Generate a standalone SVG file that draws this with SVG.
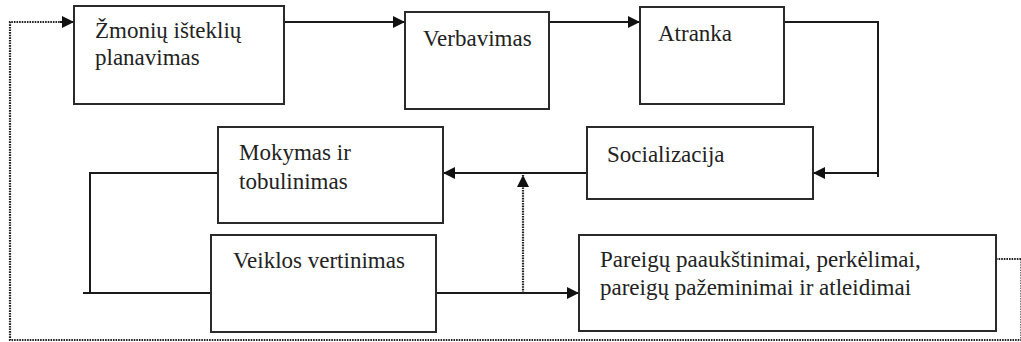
<svg xmlns="http://www.w3.org/2000/svg" width="1021" height="342" viewBox="0 0 1021 342">
<style>
.box{fill:#fff;stroke:#2a2a2a;stroke-width:2}
.t{font-family:'Liberation Serif','Times New Roman','DejaVu Serif',serif;font-size:23px;fill:#222}
.ln{fill:none;stroke:#1a1a1a;stroke-width:2}
.dt{fill:none;stroke:#222;stroke-width:2.2;stroke-dasharray:1.6 1}
</style>
<defs>
<marker id="ah" viewBox="0 0 10 10" refX="10" refY="5" markerWidth="13" markerHeight="12" markerUnits="userSpaceOnUse" orient="auto">
<path d="M0,0 L10,5 L0,10 Z" fill="#111"/>
</marker>
</defs>
<rect width="1021" height="342" fill="#fff"/>
<g id="connectors">
<polyline class="dt" points="1021.5,259 1021.5,340 10,340 10,22 60,22"/>
<line class="ln" x1="60" y1="22" x2="74" y2="22" marker-end="url(#ah)"/>
<line class="dt" x1="996" y1="259" x2="1021" y2="259"/>
<line class="ln" x1="284" y1="22" x2="405" y2="22" marker-end="url(#ah)"/>
<line class="ln" x1="549" y1="22" x2="640" y2="22" marker-end="url(#ah)"/>
<polyline class="ln" points="784,22 878,22 878,177"/>
<line class="ln" x1="878" y1="173" x2="813" y2="173" marker-end="url(#ah)"/>
<line class="ln" x1="587" y1="173" x2="443" y2="173" marker-end="url(#ah)"/>
<polyline class="ln" points="218,173 90,173 90,293"/>
<line class="ln" x1="83" y1="293" x2="211" y2="293"/>
<line class="ln" x1="436" y1="293" x2="579" y2="293" marker-end="url(#ah)"/>
<line class="dt" x1="523" y1="293" x2="523" y2="175" marker-end="url(#ah)"/>
</g>
<g id="n1"><rect class="box" x="74" y="6" width="210" height="98"/><text class="t" x="95" y="38">Žmonių išteklių</text><text class="t" x="95" y="65">planavimas</text></g>
<g id="n2"><rect class="box" x="405" y="12" width="144" height="97"/><text class="t" x="423" y="46">Verbavimas</text></g>
<g id="n3"><rect class="box" x="640" y="7" width="144" height="97"/><text class="t" x="658" y="41">Atranka</text></g>
<g id="n4"><rect class="box" x="587" y="127" width="226" height="72"/><text class="t" x="607" y="162">Socializacija</text></g>
<g id="n5"><rect class="box" x="218" y="127" width="225" height="96"/><text class="t" x="239" y="160">Mokymas ir</text><text class="t" x="239" y="189">tobulinimas</text></g>
<g id="n6"><rect class="box" x="211" y="235" width="225" height="97"/><text class="t" x="233" y="268">Veiklos vertinimas</text></g>
<g id="n7"><rect class="box" x="579" y="235" width="417" height="96"/><text class="t" x="600" y="267">Pareigų paaukštinimai, perkėlimai,</text><text class="t" x="600" y="295">pareigų pažeminimai ir atleidimai</text></g>
</svg>
